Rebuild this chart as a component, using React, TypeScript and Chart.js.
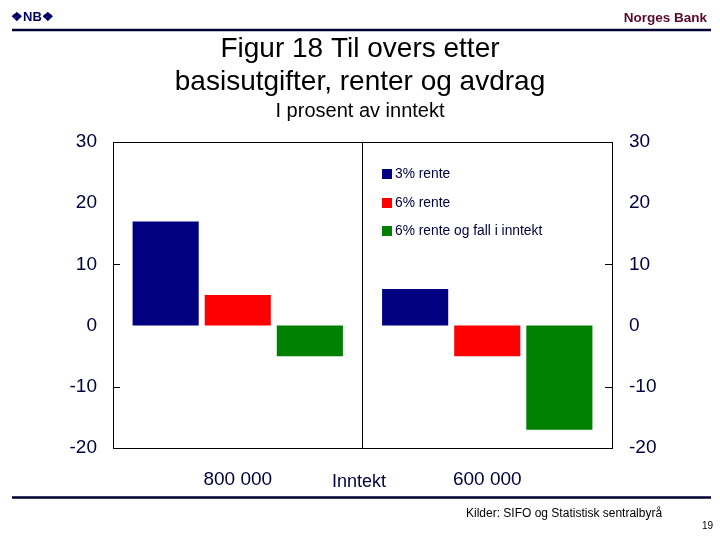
import React, { useEffect, useRef } from "react";
import { Chart, registerables } from "chart.js";

Chart.register(...registerables);

const categories = ["800 000", "600 000"];
const seriesNames = ["3% rente", "6% rente", "6% rente og fall i inntekt"];
const series3 = [17, 6];
const series6 = [5, -5];
const series6Fall = [-5, -17];
const seriesColors = ["#000080", "#FF0000", "#008000"];
const yTicks = [30, 20, 10, 0, -10, -20];
const markedTicks = [10, -10];

const TEXT_NAVY = "#000040";
const FONT = "'Liberation Sans', Arial, sans-serif";

const decorPlugin = {
  id: "decor",
  afterDraw(chart: any) {
    const ctx = chart.ctx;
    const ca = chart.chartArea;
    const y = chart.scales.y;
    ctx.save();
    // frame
    ctx.strokeStyle = "#000000";
    ctx.lineWidth = 1;
    ctx.strokeRect(Math.round(ca.left) + 0.5, Math.round(ca.top) + 0.5, Math.round(ca.right - ca.left), Math.round(ca.bottom - ca.top));
    // inward tick marks
    markedTicks.forEach((v) => {
      const py = Math.round(y.getPixelForValue(v)) + 0.5;
      ctx.beginPath();
      ctx.moveTo(ca.left, py);
      ctx.lineTo(ca.left + 7, py);
      ctx.moveTo(ca.right, py);
      ctx.lineTo(ca.right - 7, py);
      ctx.stroke();
    });
    // header / footer rules
    ctx.strokeStyle = "#000033";
    ctx.lineWidth = 2.5;
    ctx.beginPath();
    ctx.moveTo(12, 30);
    ctx.lineTo(711, 30);
    ctx.moveTo(12, 497.5);
    ctx.lineTo(711, 497.5);
    ctx.stroke();
    // logo
    ctx.fillStyle = "#000066";
    ctx.font = `bold 13px ${FONT}`;
    ctx.textBaseline = "middle";
    ctx.textAlign = "left";
    ctx.fillText("\u2756NB\u2756", 11, 17);
    // Norges Bank
    ctx.fillStyle = "#5A0A28";
    ctx.font = `bold 13.5px ${FONT}`;
    ctx.textAlign = "right";
    ctx.fillText("Norges Bank", 707, 18);
    // titles
    ctx.fillStyle = "#000000";
    ctx.textAlign = "center";
    ctx.font = `28px ${FONT}`;
    ctx.fillText("Figur 18 Til overs etter", 360, 49);
    ctx.fillText("basisutgifter, renter og avdrag", 360, 82);
    ctx.font = `20px ${FONT}`;
    ctx.fillText("I prosent av inntekt", 360, 111);
    // axis title
    ctx.fillStyle = TEXT_NAVY;
    ctx.font = `18px ${FONT}`;
    ctx.fillText("Inntekt", 359, 482);
    // source
    ctx.fillStyle = "#000000";
    ctx.font = `12px ${FONT}`;
    ctx.textAlign = "left";
    ctx.fillText("Kilder: SIFO og Statistisk sentralbyr\u00e5", 466, 514);
    ctx.font = `10px ${FONT}`;
    ctx.textAlign = "right";
    ctx.fillText("19", 713, 526);
    // legend
    const lx = 382;
    const ly = [174, 203, 231];
    chart.data.datasets.forEach((ds: any, i: number) => {
      ctx.fillStyle = ds.backgroundColor;
      ctx.fillRect(lx, ly[i] - 5, 10, 10);
      ctx.fillStyle = TEXT_NAVY;
      ctx.font = `13.8px ${FONT}`;
      ctx.textAlign = "left";
      ctx.fillText(ds.label, lx + 13, ly[i]);
    });
    ctx.restore();
  },
};

export default function App() {
  const ref = useRef<HTMLCanvasElement>(null);
  useEffect(() => {
    if (!ref.current) return;
    const tickFont = { family: FONT, size: 19 };
    const chart = new Chart(ref.current, {
      type: "bar",
      data: {
        labels: categories,
        datasets: [
          { label: seriesNames[0], data: series3, backgroundColor: seriesColors[0] },
          { label: seriesNames[1], data: series6, backgroundColor: seriesColors[1] },
          { label: seriesNames[2], data: series6Fall, backgroundColor: seriesColors[2] },
        ],
      },
      options: {
        animation: false,
        responsive: false,
        maintainAspectRatio: false,
        layout: { padding: { left: 0, right: 0, top: 142, bottom: 0 } },
        plugins: { legend: { display: false }, tooltip: { enabled: false }, title: { display: false } },
        datasets: { bar: { categoryPercentage: 0.867, barPercentage: 0.917 } },
        scales: {
          x: {
            grid: { display: true, color: "#000000", drawTicks: false, offset: true },
            border: { display: false },
            ticks: { color: TEXT_NAVY, font: tickFont, padding: 20 },
            afterFit: (s: any) => { s.height = 92; },
          },
          y: {
            position: "left",
            min: -20,
            max: 30,
            afterBuildTicks: (s: any) => { s.ticks = yTicks.map((v) => ({ value: v })); },
            grid: { display: false, drawTicks: false },
            border: { display: false },
            ticks: { color: TEXT_NAVY, font: tickFont, padding: 16 },
            afterFit: (s: any) => { s.width = 113; },
          },
          y2: {
            position: "right",
            min: -20,
            max: 30,
            afterBuildTicks: (s: any) => { s.ticks = yTicks.map((v) => ({ value: v })); },
            grid: { display: false, drawTicks: false },
            border: { display: false },
            ticks: { color: TEXT_NAVY, font: tickFont, padding: 17 },
            afterFit: (s: any) => { s.width = 108; },
          },
        },
      },
      plugins: [decorPlugin],
    });
    return () => chart.destroy();
  }, []);
  return (
    <div style={{ position: "fixed", left: 0, top: 0, width: 720, height: 540, background: "#fff" }}>
      <canvas ref={ref} width={720} height={540} style={{ width: 720, height: 540, display: "block" }} />
    </div>
  );
}
